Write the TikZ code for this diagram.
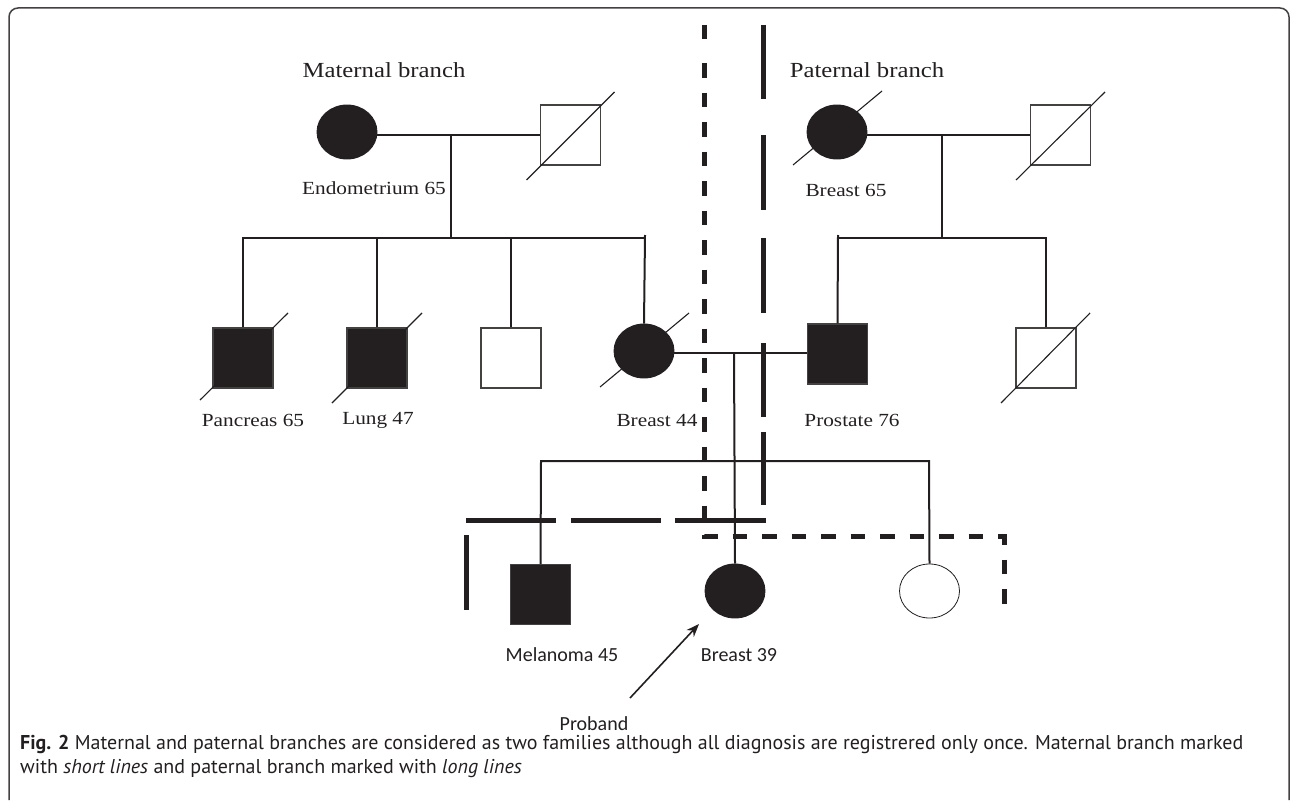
\documentclass[tikz,border=0pt]{standalone}
\usepackage{fontspec}
\setmainfont{Liberation Serif}[FakeStretch=1.15]
\newfontfamily\capfont{PT Sans}
\newfontfamily\lblfont{Carlito}
\usetikzlibrary{shapes.geometric,arrows.meta,calc}
\definecolor{ink}{HTML}{231F20}
\begin{document}
\begin{tikzpicture}[x=1pt,y=-1pt,
  male/.style={draw=ink!85, line width=1.2pt, rectangle, minimum width=60pt, minimum height=60pt, inner sep=0pt},
  female/.style={draw=ink, line width=0.9pt, ellipse, minimum width=60pt, minimum height=54pt, inner sep=0pt},
  aff/.style={fill=ink},
  rel/.style={line width=2pt, ink},
  dec/.style={line width=1.1pt, ink},
  matl/.style={line width=5pt, ink, dash pattern=on 14.5pt off 15pt},
  patl/.style={line width=5pt, ink},
  ttl/.style={font=\fontsize{21.5}{24}\selectfont, inner sep=0pt, text=ink},
  lbl/.style={font=\fontsize{18.5}{22}\selectfont, inner sep=0pt, text=ink},
  slbl/.style={font=\lblfont\fontsize{20}{23}\selectfont, inner sep=0pt, text=ink},
  captxt/.style={font=\capfont\fontsize{20}{24}\selectfont, inner sep=0pt, anchor=west, text=ink},
]
\useasboundingbox (0,0) rectangle (1292,800);
\draw[line width=1.5pt, ink!85, rounded corners=9pt] (9,800) -- (9,8) -- (1289,8) -- (1289,800);

% ---------- maternal grandparents
\node[female,aff] (mgm) at (347,132) {};
\node[male] (mgf) at (570.5,135) {};
\draw[dec] ($(mgf)+(-44,45)$) -- ($(mgf)+(44,-43)$);
\coordinate (mc) at (451,135);
\coordinate (ms) at (451,238);
\draw[rel] (mgm.east |- mc) -- (mgf.west);
\draw[rel] (mc) -- (ms);

% maternal children
\node[male,aff] (c1) at (243,358) {};
\node[male,aff] (c2) at (377,358) {};
\node[male] (c3) at (511,358) {};
\node[female,aff] (c4) at (644,351) {};
\draw[dec] ($(c1)+(-43,42)$) -- ($(c1)+(45,-45)$);
\draw[dec] ($(c2)+(-45,45)$) -- ($(c2)+(45,-45)$);
\draw[dec] ($(c4)+(-44,36)$) -- ($(c4)+(45,-38)$);
\coordinate (s1l) at (243,238);
\coordinate (s1r) at (645,238);
\coordinate (s1t) at (645,235);
\draw[rel] (c1.north) -- (s1l) -- (s1r);
\draw[rel] (c2.north) -- (c2.north |- s1l);
\draw[rel] (c3.north) -- (c3.north |- s1l);
\draw[rel] (c4.north) -- (s1t);

% ---------- paternal grandparents
\node[female,aff] (pgm) at (837,132) {};
\node[male] (pgf) at (1060.5,135) {};
\draw[dec] ($(pgm)+(-44,33)$) -- ($(pgm)+(45,-41)$);
\draw[dec] ($(pgf)+(-44.5,45)$) -- ($(pgf)+(44.5,-43)$);
\coordinate (pc) at (942,135);
\coordinate (ps) at (942,238);
\draw[rel] (pgm.east |- pc) -- (pgf.west);
\draw[rel] (pc) -- (ps);

% paternal children
\node[male,aff] (pc1) at (837.5,354) {};
\node[male] (pc2) at (1046,358) {};
\draw[dec] ($(pc2)+(-45,45)$) -- ($(pc2)+(44,-45)$);
\coordinate (s2l) at (838,235);
\coordinate (s2r) at (1046,238);
\draw[rel] (pc1.north) -- (s2l);
\draw[rel] (pc1.north |- s2r) -- (s2r) -- (pc2.north);

% ---------- parents of proband
\coordinate (cc) at (734,353);
\draw[rel] (c4.east |- cc) -- (pc1.west |- cc);

% proband generation
\node[male,aff] (g1) at (540.5,594.5) {};
\node[female,aff] (g2) at (735,591) {};
\node[female,line width=0.8pt] (g3) at (929.5,591) {};
\coordinate (s3l) at (541,461);
\coordinate (s3r) at (929,461);
\draw[rel] (cc) -- (g2.north);
\draw[rel] (g1.north) -- (s3l) -- (s3r) -- (g3.north);

% proband arrow
\coordinate (arrtail) at (630,698);
\coordinate (arrtip) at (699,624);
\draw[line width=1.6pt, ink, -{Stealth[length=13pt,width=10pt]}] (arrtail) -- (arrtip);

% ---------- paternal long lines
\foreach \a/\b in {25/99,135/210,238/313,343/417,432/505}
  \draw[patl] (763,\a) -- (763,\b);
\foreach \a/\b in {466/556,571/661,675/766}
  \draw[patl] (\a,520) -- (\b,520);
\draw[patl] (466,535) -- (466,610);

% ---------- maternal short lines
\draw[patl] (704,25) -- (704,39.5);
\draw[matl] (704,63) -- (704,536) -- (1004,536) -- (1004,610);

% ---------- labels
\node[ttl] (tm) at (384,70) {Maternal branch};
\node[ttl] (tp) at (867,70) {Paternal branch};
\node[lbl] (l1) at (374,188) {Endometrium 65};
\node[lbl] (l2) at (846,190) {Breast 65};
\node[lbl] (l3) at (253,420) {Pancreas 65};
\node[lbl] (l4) at (378,420) {Lung 47};
\node[lbl] (l5) at (657,420) {Breast 44};
\node[lbl] (l6) at (852,420) {Prostate 76};
\node[slbl] (l7) at (562,655) {Melanoma 45};
\node[slbl] (l8) at (739,655) {Breast 39};
\node[slbl] (l9) at (594,724) {Proband};

% ---------- caption
\node[captxt] (cap1) at (20,744) {\textbf{Fig. 2} Maternal and paternal branches are considered as two families although all diagnosis are registrered only once. Maternal branch marked};
\node[captxt] (cap2) at (20,769) {with \textit{short lines} and paternal branch marked with \textit{long lines}};
\end{tikzpicture}
\end{document}
